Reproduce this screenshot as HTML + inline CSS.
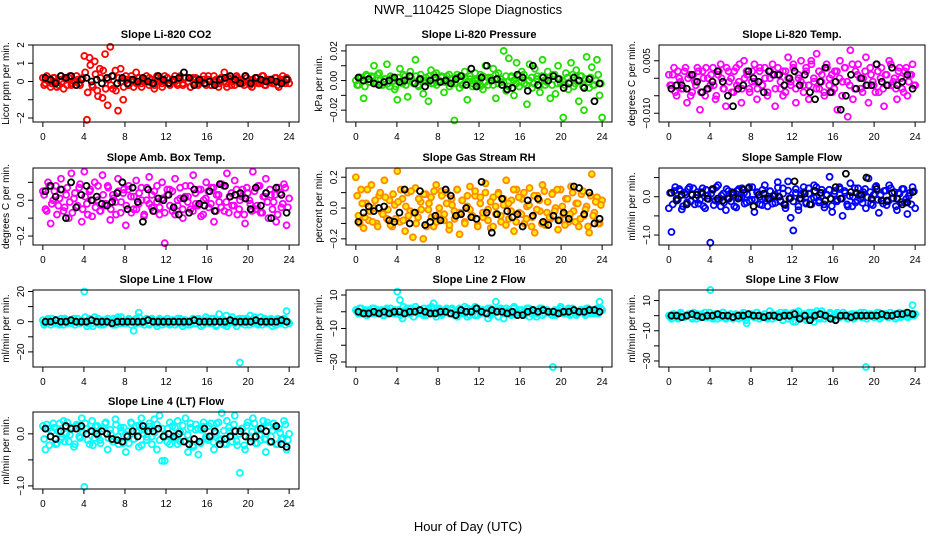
<!DOCTYPE html>
<html><head><meta charset="utf-8"><style>
body{margin:0;background:#fff;}
svg{display:block;font-family:"Liberation Sans",Arial,sans-serif;}
</style></head><body>
<svg id="chart" width="936" height="540" viewBox="0 0 936 540">
<rect width="936" height="540" fill="#fff"/>
<text x="468" y="14" text-anchor="middle" font-size="13">NWR_110425  Slope Diagnostics</text>
<text x="468" y="531" text-anchor="middle" font-size="13">Hour of Day (UTC)</text>
</svg>
<script>
const titles=["Slope Li-820 CO2","Slope Li-820 Pressure","Slope Li-820 Temp.","Slope Amb. Box Temp.","Slope Gas Stream RH","Slope Sample Flow","Slope Line 1 Flow","Slope Line 2 Flow","Slope Line 3 Flow","Slope Line 4 (LT) Flow"];
const yTitles=["Licor ppm per min.","kPa per min.","degrees C per min.","degrees C per min.","percent per min.","ml/min per min.","ml/min per min.","ml/min per min.","ml/min per min.","ml/min per min."];
const yScale=[0.1,0.001,0.001,0.01,0.01,0.01,1,1,1,0.01];
const yLims=[[-2.22,2.0],[-0.028,0.024],[-0.0125,0.0095],[-0.25,0.18],[-0.24,0.26],[-1.26,0.75],[-30,21],[-33,13],[-34,17],[-1.06,0.42]];
const yTicks=[[-2,-1,0,1,2],[-0.02,-0.01,0,0.01,0.02],[-0.01,-0.005,0,0.005],[-0.2,-0.1,0,0.1],[-0.2,-0.1,0,0.1,0.2],[-1,-0.5,0,0.5],[-20,-10,0,10,20],[-30,-20,-10,0,10],[-30,-20,-10,0,10],[-1,-0.5,0]];
const yTickLabels=[["−2","","0","1","2"],["−0.02","","0.00","","0.02"],["−0.010","","","0.005"],["−0.2","","0.0",""],["−0.2","","0.0","","0.2"],["−1.0","","0.0",""],["−20","","0","","20"],["−30","","−10","","10"],["−30","","−10","","10"],["−1.0","","0.0"]];
const xTicks=[0,4,8,12,16,20,24];
const colors=["#ff0000","#22dd00","#ff00ff","#ff00ff","#ff8c00","#0000ff","#00ffff","#00ffff","#00ffff","#00ffff"];
const colored0=[2,-1,1,-3,2,0,-2,3,-4,1,2,-2,0,3,-1,1,14,-21,13,-2,11,-5,7,-9,15,-13,19,-4,6,-16,7,-10,3,-2,1,-3,5,2,-1,0,3,-2,1,-4,2,0,-1,3,2,-2,1,0,-1,3,-2,2,0,-3,1,2,-1,0,3,-2,1,-2,3,0,-1,2,5,-3,1,0,-2,2,1,-1,3,0,-2,1,2,-1,0,3,-2,1,0,-1,2,-3,1,0,2,-1];
const coloredB0=[-2,3,0,-1,2,-3,1,0,2,-2,3,-1,0,1,-2,2,5,-6,9,-3,4,-8,2,6,-4,1,-2,3,-5,2,0,-3,1,-2,3,0,-1,2,-3,1,0,2,-1,-2,3,1,-3,0,2,-1,0,3,-2,1,-1,2,0,-3,2,1,-2,0,1,-1,3,-2,0,1,-3,2,0,-1,2,-2,1,3,-1,0,-2,2,1,-3,0,2,-1,3,-2,0,1,-1,2,-2,0,3,-1,1];
const black0=[2,1,-1,3,2,3,-2,1,2,0,1,-1,2,3,-1,2,-1,1,0,2,0,-1,3,1,-1,1,2,5,2,-2,1,-1,0,-2,1,2,3,1,-1,3,-1,2,1,0,1,0,-1,1];
const colored1=[0,-3,2,-12,4,-1,3,10,-2,5,-3,1,11,-4,2,-6,-13,8,-2,3,-11,6,-1,14,-3,4,-9,2,-14,7,-2,5,-1,3,-8,1,4,-2,-27,2,-5,3,6,-13,1,-4,5,-2,4,-6,10,-3,2,8,-12,5,-1,20,-7,15,3,-10,12,-4,6,-2,-16,11,-5,8,3,-8,14,-3,6,-12,4,-9,10,-2,-25,5,-6,12,-4,7,-14,3,-20,16,-5,9,-3,14,-10,-25];
const coloredB1=[-3,2,0,-4,3,-1,2,-2,4,0,-3,1,-2,3,0,-4,2,-1,4,-3,0,2,-2,3,-4,1,0,-1,3,-2,4,-3,0,2,-1,3,-4,1,-2,4,0,-3,2,-1,3,-2,0,1,-4,3,-1,2,0,-3,4,-2,1,-1,3,-4,2,0,-2,3,-1,4,-3,0,2,-2,1,-4,3,0,-1,2,-3,4,-2,1,0,-3,2,-1,4,-2,0,3,-4,1,-1,2,-3,0,4,-2];
const black1=[2,0,1,-2,-3,-1,0,2,-1,0,3,-2,1,-4,0,2,-1,0,-2,1,3,-3,8,-4,2,10,0,1,-3,-6,-5,4,2,-7,10,-3,2,0,3,1,-5,-2,2,0,-5,1,-14,-2];
const colored2=[1,-2,3,-5,0,-3,2,-7,1,-4,-1,3,-9,2,-5,0,-2,3,-6,1,4,-3,-8,2,0,-4,3,-1,-7,5,2,-3,-1,4,-6,2,-2,3,-5,0,4,-8,1,-3,2,-4,6,-1,3,-7,0,5,-2,2,-6,4,-1,7,-3,1,-5,3,0,-4,2,-9,5,-1,3,-11,8,-6,2,4,-3,0,6,-7,1,-2,4,-4,3,-8,1,5,-2,0,-6,3,-3,2,-5,1,4,-2];
const coloredB2=[-2,1,-4,2,-1,-3,3,0,-5,1,-2,2,-4,0,3,-3,1,-2,-5,2,0,-3,3,-1,-4,2,-2,4,-3,0,1,-4,2,-1,-3,3,-2,0,-4,2,1,-3,3,-1,-5,2,0,-2,4,-3,1,-1,-4,3,-2,5,0,-3,2,-1,-4,4,-2,1,-3,2,0,-5,3,-1,-2,4,-3,1,0,-4,2,-2,3,-1,-4,2,0,-3,1,-2,4,-1,-3,2,0,-4,3,-1,1,-2];
const black2=[-3,-2,-2,-3,1,-1,-4,-3,-1,2,-1,-5,-8,-3,-2,2,0,-1,-4,2,1,1,-2,0,2,-2,1,-4,-6,-1,3,-4,-1,-9,-5,1,-3,0,-2,-2,4,-1,-2,3,-2,-1,1,-3];
const colored3=[5,-5,10,-13,0,8,-3,12,-6,3,-10,15,1,-4,7,-12,16,-2,5,-9,10,0,-6,14,-3,8,-11,3,-1,12,-7,4,-14,6,2,-5,11,-2,7,-9,0,13,-4,5,-1,-8,10,-24,3,6,-6,12,-3,1,-10,8,2,-5,14,-2,6,-9,0,10,-4,7,-12,3,-1,9,-6,15,2,-3,11,-8,0,6,-13,4,-2,16,-5,8,-7,2,12,-10,3,-1,-12,7,-4,9,-14,1];
const coloredB3=[3,-6,8,-2,5,-8,1,6,-4,7,-1,-7,4,-3,9,-5,2,-8,6,0,-4,8,-6,3,-2,7,-5,1,-8,5,-1,6,-3,8,-7,2,-5,4,0,-8,7,-2,3,-6,8,-4,1,-7,6,-3,5,-8,0,7,-5,2,-1,8,-6,4,-3,6,-8,1,5,-2,7,-6,3,-4,8,-1,-7,4,-3,6,-5,2,-8,7,0,-6,5,-3,8,-7,2,-1,6,-5,3,-8,4,-2,7,-4];
const black3=[5,8,2,6,-10,10,-4,3,8,0,2,-2,-3,-1,4,10,-5,7,-1,-12,6,-6,1,0,3,-4,-8,1,-7,6,-2,-3,5,-6,9,8,2,3,4,1,-5,7,-3,4,-10,7,3,-7];
const colored4=[20,-5,12,-13,3,-8,15,0,-10,8,-3,18,-7,5,-12,2,24,-9,6,-15,10,-2,-19,13,-6,4,-20,9,-1,7,-12,15,-4,11,-8,3,-14,6,-2,12,-17,5,-9,1,14,-5,8,-11,3,-6,16,-1,-13,7,-4,10,-9,2,18,-7,5,-15,12,-3,6,-10,1,13,-6,-16,8,-2,15,-11,4,-7,10,0,-14,12,-4,6,-9,14,-2,3,-12,9,-5,1,-16,22,-3,7,-10,5];
const coloredB4=[8,-10,3,-6,12,-2,-9,5,-12,10,-4,7,-1,-11,9,-7,4,12,-8,1,-5,11,-3,-10,6,-1,9,-12,3,-6,11,-9,0,8,-4,10,-11,2,-7,12,-3,5,-10,8,-1,-6,11,-12,7,-3,10,-8,4,-12,1,9,-5,6,-11,3,-2,12,-9,7,-4,10,-7,2,-12,8,-1,5,-10,11,-3,-6,9,-2,12,-8,1,-11,6,-4,10,-9,3,-7,11,-1,-12,8,-5,4,-10,2];
const black4=[-9,-3,1,-2,0,1,-8,-9,-3,12,-10,-3,11,-11,-9,-5,-8,12,8,-5,-4,0,-6,-7,17,-3,-16,-4,6,-2,-6,-4,-12,5,-5,6,-9,-11,-5,-8,-3,-7,14,13,-4,10,-10,-7];
const colored5=[-30,-92,15,-5,20,-33,10,-15,25,5,-20,12,-8,22,-30,3,-120,18,-10,30,-25,8,-35,15,-12,5,-28,20,-2,10,-15,25,-8,-40,12,0,-22,30,-5,15,-18,6,38,-12,22,-30,40,-55,-88,10,-35,-5,25,-15,8,-20,30,0,-10,18,-28,5,52,-40,15,-8,20,-50,10,-25,35,0,-15,22,-6,12,-30,48,-18,5,28,-42,-10,15,-22,30,-5,12,-35,8,20,-15,-45,10,25,-30];
const coloredB5=[10,-20,25,-8,15,-25,5,20,-12,22,-3,-18,12,-25,18,-6,8,-22,25,-10,3,-15,20,-5,12,-25,15,-2,22,-18,6,-12,25,-8,10,-20,18,-4,-25,14,2,-16,24,-10,8,-22,16,-3,-12,20,-25,6,12,-18,22,-6,-2,25,-15,10,-20,4,18,-24,8,-12,25,-5,15,-20,2,-25,22,-10,6,-16,20,-2,12,-22,25,-8,4,-18,16,-12,22,-4,-25,10,-14,20,-6,2,-20,14];
const black5=[10,-10,5,-20,5,5,10,-5,20,-5,-10,-5,10,-5,18,22,-25,5,8,-5,2,0,-20,-5,40,-5,8,-20,15,10,-10,-5,25,-5,60,12,10,5,50,-5,20,-10,-10,10,-5,-20,-15,12];
const colored6=[1,-1,2,-2,0,1,-1,2,-2,1,0,-1,2,0,-1,1,20,-3,2,-1,3,0,-2,1,-1,2,0,-2,1,3,-1,0,-1,1,0,-6,2,6,-1,0,2,-2,1,0,-1,2,-2,1,0,-1,1,-2,2,0,-1,1,-2,0,1,-1,2,-3,0,1,-1,2,0,-2,5,-1,1,-3,0,3,-1,1,-27,2,-2,1,4,-1,0,-2,3,1,-1,0,2,-1,-2,1,0,2,7,-1];
const coloredB6=[-2,1,0,2,-1,1,-2,0,2,-1,1,0,-2,2,-1,0,3,-1,1,-3,0,2,-1,-2,1,0,-1,2,-2,1,3,-1,0,2,-2,1,-1,3,0,-2,1,-1,2,0,-3,1,0,-1,2,-2,1,0,-1,2,-3,1,0,-2,2,-1,1,0,-2,3,0,-1,2,-3,1,0,-2,4,-1,1,0,-3,2,-1,0,2,-2,1,3,-1,0,-2,2,-1,1,-3,0,2,-1,1,-2,0];
const black6=[0,0,1,0,0,1,0,0,0,1,0,0,0,-1,0,0,0,0,0,0,1,0,0,0,0,0,0,0,0,1,0,0,0,0,0,0,1,0,0,0,0,1,0,0,0,0,1,0];
const colored7=[1,-1,2,0,-2,1,-1,2,0,-1,1,-2,2,0,-1,1,12,7,-4,1,2,-1,0,3,-1,1,-2,0,2,-1,5,-3,1,-1,0,2,-1,1,-2,0,2,-1,3,-3,1,0,-2,2,-1,1,0,-4,2,-1,6,-3,1,-4,2,0,-1,3,-2,1,-1,0,2,-3,1,0,-1,2,-2,1,0,-1,-33,-2,1,3,-1,0,2,-1,1,-2,0,1,-1,2,0,1,-1,2,6,1];
const coloredB7=[0,2,-1,1,-2,0,2,-1,1,0,-2,1,-1,2,0,-1,1,-2,3,0,-1,2,-3,1,0,-1,2,-2,1,3,-1,0,2,-2,0,1,-1,2,0,-3,1,0,-1,2,-2,1,3,-2,0,1,-1,2,-2,0,1,-3,2,-1,0,1,-2,2,0,-1,1,-2,0,2,-1,1,-3,0,2,-1,1,0,-2,1,-1,2,0,-1,1,-2,2,0,-1,1,0,-2,2,-1,0,1,-1,2];
const black7=[0,-1,-1,0,-1,0,-1,0,0,-1,0,0,1,0,-1,-1,0,0,-1,-2,1,0,0,2,0,-1,1,0,0,-1,0,-2,-2,0,1,0,1,0,0,-1,0,0,1,0,0,1,1,0];
const colored8=[0,-2,1,-1,0,1,-1,0,1,-2,0,1,-1,0,2,-1,17,-2,1,0,-1,2,-2,0,1,-1,0,-2,1,-1,-5,0,1,-1,2,0,-1,1,-2,0,1,-1,0,2,-3,1,0,-1,2,-4,3,-2,1,0,-3,2,-4,1,-1,3,-2,0,1,-1,0,2,-1,0,1,-2,0,1,-1,0,2,-1,-34,0,1,-1,0,2,-1,0,1,-1,0,1,-1,2,0,1,-1,0,7,1];
const coloredB8=[-1,1,0,-2,2,-1,0,1,-1,2,-2,0,1,-1,0,2,-1,1,-2,0,2,-1,0,1,-2,1,0,-1,2,-3,1,0,-1,2,-2,0,1,-1,3,-2,0,1,-1,0,2,-2,1,-4,2,0,-1,1,-3,2,0,-1,3,-2,1,0,-1,2,-2,1,0,-1,2,-1,0,1,-2,1,0,-1,2,-2,1,0,-1,2,-2,0,1,-1,2,0,-2,1,-1,0,2,-1,1,0];
const black8=[0,0,-1,0,1,0,-1,0,0,1,0,0,-1,0,0,1,0,0,-1,0,0,-1,0,0,1,-2,0,-3,0,1,0,-2,-3,0,0,-1,0,0,0,0,0,1,0,0,1,1,2,1];
const colored9=[15,-30,10,-5,20,-20,5,-10,25,0,-15,12,-25,18,-5,30,-102,10,-20,25,-8,15,-12,5,20,-30,8,-15,28,-5,12,-18,-35,5,22,-10,15,-25,30,0,-12,20,-5,28,-30,35,-52,-52,10,-20,15,-8,25,-15,5,30,-35,12,-25,18,-40,8,22,-10,15,-5,-30,20,-12,40,-20,25,5,-15,35,-22,-75,10,-30,22,-5,30,-18,8,-12,25,-35,15,-5,20,-20,10,-10,25,-30,0];
const coloredB9=[-10,18,-22,5,12,-18,20,-6,-15,22,-2,10,-20,15,-8,2,20,-12,6,-22,14,-4,-18,10,22,-8,0,-15,18,-20,6,12,-2,-18,20,-10,4,16,-22,8,-6,14,-20,2,18,-12,10,-4,-16,22,-8,12,-20,4,16,-14,-2,20,-22,8,10,-18,14,-6,-12,20,-16,2,22,-10,6,-20,12,-4,18,-14,0,10,-22,16,-8,4,20,-18,-2,12,-10,22,-16,6,14,-20,2,-8,18,-12];
const black9=[10,-5,-10,5,15,10,10,15,0,5,0,5,0,-10,-12,-15,-5,5,-5,15,5,5,10,-5,0,-5,0,-15,-20,-10,-15,10,-5,5,-20,-10,-5,5,5,-5,-15,-5,10,5,-15,15,-20,-25];
const coloredSets=[colored0,colored1,colored2,colored3,colored4,colored5,colored6,colored7,colored8,colored9];
const coloredBSets=[coloredB0,coloredB1,coloredB2,coloredB3,coloredB4,coloredB5,coloredB6,coloredB7,coloredB8,coloredB9];
const blackSets=[black0,black1,black2,black3,black4,black5,black6,black7,black8,black9];

const NS="http://www.w3.org/2000/svg";
const svg=document.getElementById('chart');
function mk(tag,attrs,parent){const e=document.createElementNS(NS,tag);for(const k in attrs)e.setAttribute(k,attrs[k]);(parent||svg).appendChild(e);return e;}
const colLeft=[33,346,659],rowTop=[45,168,290,412],W=266,H=77;
const xMin=-0.96,xMax=24.96;
for(let p=0;p<10;p++){
  const bx=colLeft[p%3],by=rowTop[Math.floor(p/3)];
  const g=mk('g',{});
  
  
  const [y0,y1]=yLims[p];
  const xs=v=>bx+(v-xMin)/(xMax-xMin)*W;
  const ys=v=>by+H-(v-y0)/(y1-y0)*H;
  const t=mk('text',{x:bx+W/2,y:by-7,'text-anchor':'middle','font-size':'11','font-weight':'bold'},g);
  t.textContent=titles[p];
  
  
  const yt=mk('text',{x:0,y:0,'text-anchor':'middle','font-size':'10',transform:`translate(${bx-24},${by+H/2}) rotate(-90)`},g);
  yt.textContent=yTitles[p];
  
  
  const pts=mk('g',{},g);
  
  
  const cs=coloredSets[p];
  cs.forEach((v,i)=>{
    const hx=24*i/(cs.length-1);
    const c=mk('circle',{cx:xs(hx),cy:ys(v*yScale[p]),r:3,fill:p===4?'#ffee00':'none',stroke:colors[p],'stroke-width':1.8},pts);
    
    
  });
  const cb=coloredBSets[p];
  cb.forEach((v,i)=>{
    const hx=24*(i+0.5)/cb.length;
    const c=mk('circle',{cx:xs(hx),cy:ys(v*yScale[p]),r:3,fill:p===4?'#ffee00':'none',stroke:colors[p],'stroke-width':1.8},pts);
    
    
  });
  const bpts=mk('g',{},g);
  
  
  const bs=blackSets[p];
  bs.forEach((v,i)=>{
    const hx=0.25+23.5*i/(bs.length-1);
    const c=mk('circle',{cx:xs(hx),cy:ys(v*yScale[p]),r:3,fill:'none',stroke:'#000','stroke-width':1.8},bpts);
    
    
  });
  const box=mk('rect',{x:bx,y:by,width:W,height:H,fill:'none',stroke:'#000','stroke-width':1},g);
  
  
  const xa=mk('g',{},g);
  
  
  mk('line',{x1:xs(0),x2:xs(24),y1:by+H,y2:by+H,stroke:'#000'},xa);
  xTicks.forEach(v=>{
    mk('line',{x1:xs(v),x2:xs(v),y1:by+H,y2:by+H+5,stroke:'#000'},xa);
    const l=mk('text',{x:xs(v),y:by+H+18,'text-anchor':'middle','font-size':'10'},xa);
    l.textContent=v;
    
    
  });
  const ya=mk('g',{},g);
  
  
  const tk=yTicks[p];
  mk('line',{x1:bx,x2:bx,y1:ys(tk[0]),y2:ys(tk[tk.length-1]),stroke:'#000'},ya);
  tk.forEach((v,i)=>{
    mk('line',{x1:bx-5,x2:bx,y1:ys(v),y2:ys(v),stroke:'#000'},ya);
    const lab=yTickLabels[p][i];
    if(lab){
      const l=mk('text',{x:0,y:0,'text-anchor':'middle','font-size':'10',transform:`translate(${bx-9},${ys(v)}) rotate(-90)`},ya);
      l.textContent=lab;
      
      
    }
  });
}
</script>
</body></html>
